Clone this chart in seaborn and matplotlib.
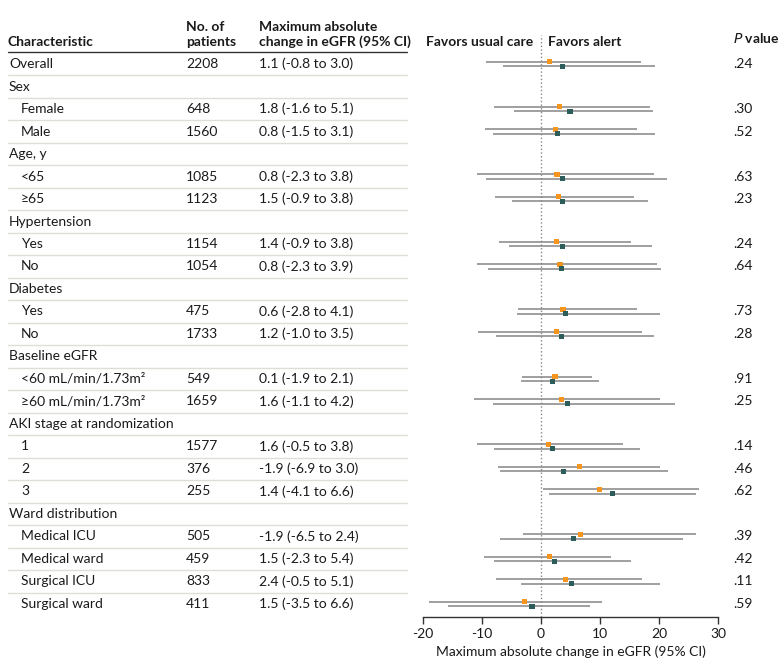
import numpy as np
import pandas as pd
import matplotlib
matplotlib.use('Agg')
from matplotlib import pyplot as plt
import matplotlib.transforms as mtransforms
import seaborn as sns

nan = np.nan

labels = ['Overall', 'Sex', 'Female', 'Male', 'Age, y', '<65', '≥65',
          'Hypertension', 'Yes', 'No', 'Diabetes', 'Yes', 'No',
          'Baseline eGFR', '<60 mL/min/1.73m²', '≥60 mL/min/1.73m²',
          'AKI stage at randomization', '1', '2', '3',
          'Ward distribution', 'Medical ICU', 'Medical ward', 'Surgical ICU', 'Surgical ward']
indent = [0, 0, 1, 1, 0, 1, 1, 0, 1, 1, 0, 1, 1, 0, 1, 1, 0, 1, 1, 1, 0, 1, 1, 1, 1]
n_patients = ['2208', '', '648', '1560', '', '1085', '1123', '', '1154', '1054', '',
              '475', '1733', '', '549', '1659', '', '1577', '376', '255', '',
              '505', '459', '833', '411']
change_ci = ['1.1 (-0.8 to 3.0)', '', '1.8 (-1.6 to 5.1)', '0.8 (-1.5 to 3.1)', '',
             '0.8 (-2.3 to 3.8)', '1.5 (-0.9 to 3.8)', '', '1.4 (-0.9 to 3.8)',
             '0.8 (-2.3 to 3.9)', '', '0.6 (-2.8 to 4.1)', '1.2 (-1.0 to 3.5)', '',
             '0.1 (-1.9 to 2.1)', '1.6 (-1.1 to 4.2)', '', '1.6 (-0.5 to 3.8)',
             '-1.9 (-6.9 to 3.0)', '1.4 (-4.1 to 6.6)', '', '-1.9 (-6.5 to 2.4)',
             '1.5 (-2.3 to 5.4)', '2.4 (-0.5 to 5.1)', '1.5 (-3.5 to 6.6)']
p_values = ['.24', '', '.30', '.52', '', '.63', '.23', '', '.24', '.64', '',
            '.73', '.28', '', '.91', '.25', '', '.14', '.46', '.62', '',
            '.39', '.42', '.11', '.59']

# orange markers
usual_est = [1.4, nan, 3.1, 2.5, nan, 2.7, 3.0, nan, 2.6, 3.2, nan, 3.7, 2.6, nan,
             2.4, 3.5, nan, 1.3, 6.5, 9.9, nan, 6.7, 1.4, 4.2, -2.8]
usual_lo = [-9.4, nan, -8.0, -9.5, nan, -10.8, -7.8, nan, -7.1, -10.9, nan, -3.9, -10.7, nan,
            -3.2, -11.4, nan, -10.8, -7.3, 0.3, nan, -3.1, -9.7, -7.6, -19.0]
usual_hi = [17.0, nan, 18.4, 16.3, nan, 19.1, 15.8, nan, 15.2, 19.7, nan, 16.3, 17.2, nan,
            8.7, 20.2, nan, 13.9, 20.2, 26.7, nan, 26.2, 11.8, 17.2, 10.4]
# green markers
alert_est = [3.6, nan, 4.9, 2.8, nan, 3.6, 3.6, nan, 3.6, 3.5, nan, 4.1, 3.5, nan,
             1.9, 4.5, nan, 2.0, 3.8, 12.1, nan, 5.5, 2.3, 5.2, -1.5]
alert_lo = [-6.4, nan, -4.5, -8.1, nan, -9.4, -5.0, nan, -5.4, -8.9, nan, -4.1, -7.7, nan,
            -3.4, -8.2, nan, -7.9, -6.9, 1.3, nan, -6.9, -8.0, -3.4, -15.8]
alert_hi = [19.3, nan, 18.9, 19.3, nan, 21.4, 18.2, nan, 18.8, 20.3, nan, 20.2, 19.1, nan,
            9.9, 22.7, nan, 16.7, 21.6, 26.2, nan, 24.1, 15.2, 20.2, 8.3]

sns.set_style('white')
plt.rcParams['font.family'] = ['Lato', 'DejaVu Sans']
plt.rcParams['axes.unicode_minus'] = False

W, H = 780, 670
fig = plt.figure(figsize=(W / 100, H / 100), dpi=100)
ax = fig.add_axes([423 / W, (H - 617) / H, 295 / W, 582 / H])

rows = np.arange(len(labels))
df = pd.concat([
    pd.DataFrame({'row': rows - 0.1, 'est': usual_est, 'lo': usual_lo, 'hi': usual_hi, 'arm': 'usual'}),
    pd.DataFrame({'row': rows + 0.1, 'est': alert_est, 'lo': alert_lo, 'hi': alert_hi, 'arm': 'alert'}),
]).dropna()

ax.axvline(0, color='#888888', ls=':', lw=1, zorder=1)
ax.hlines(df['row'], df['lo'], df['hi'], color='#858585', lw=1.1, zorder=2)
sns.scatterplot(data=df, x='est', y='row', hue='arm', palette={'usual': '#F7941E', 'alert': '#2D5D5A'},
                marker='s', s=15, linewidth=0, legend=False, ax=ax, zorder=3)

ax.set_xlim(-20, 30)
ax.set_ylim(24.58, -1.29)
ax.set_xticks([-20, -10, 0, 10, 20, 30])
ax.set_yticks([])
ax.set_ylabel('')
ax.set_xlabel('Maximum absolute change in eGFR (95% CI)', fontsize=10, color='#1a1a1a', labelpad=4)
ax.tick_params(axis='x', length=5, width=1, color='#333333', labelsize=10, labelcolor='#1a1a1a', pad=3, bottom=True)
for s in ['top', 'left', 'right']:
    ax.spines[s].set_visible(False)
ax.spines['bottom'].set_color('#333333')
ax.spines['bottom'].set_linewidth(1)

trans = mtransforms.blended_transform_factory(fig.transFigure, ax.transData)

def fx(px):
    return px / W

def ry(py):
    return (py - 64) / 22.5

txt = dict(transform=trans, va='center', fontsize=10, color='#1a1a1a', clip_on=False)

# table header
ax.text(fx(8), ry(42), 'Characteristic', fontweight='bold', **txt)
ax.text(fx(186), ry(27), 'No. of', fontweight='bold', **txt)
ax.text(fx(186), ry(42), 'patients', fontweight='bold', **txt)
ax.text(fx(259), ry(27), 'Maximum absolute', fontweight='bold', **txt)
ax.text(fx(259), ry(42), 'change in eGFR (95% CI)', fontweight='bold', **txt)
ax.plot([fx(8), fx(407)], [ry(52)] * 2, transform=trans, color='#333333', lw=1, clip_on=False)

ax.text(fx(533), ry(42), 'Favors usual care', ha='right', fontweight='bold', **txt)
ax.text(fx(548), ry(42), 'Favors alert', ha='left', fontweight='bold', **txt)
ax.text(fx(733), ry(38), r'$\bf{\it{P}}$ value', fontweight='bold', **txt)

for i, lab in enumerate(labels):
    ax.text(fx(21 if indent[i] else 9), i, lab, **txt)
    ax.text(fx(186), i, n_patients[i], **txt)
    ax.text(fx(259), i, change_ci[i], **txt)
    ax.text(fx(733), i, p_values[i], **txt)
    if i < len(labels) - 1:
        ax.plot([fx(8), fx(407)], [i + 0.5] * 2, transform=trans, color='#deded8', lw=1, clip_on=False)

fig.savefig('out.png', dpi=100)
